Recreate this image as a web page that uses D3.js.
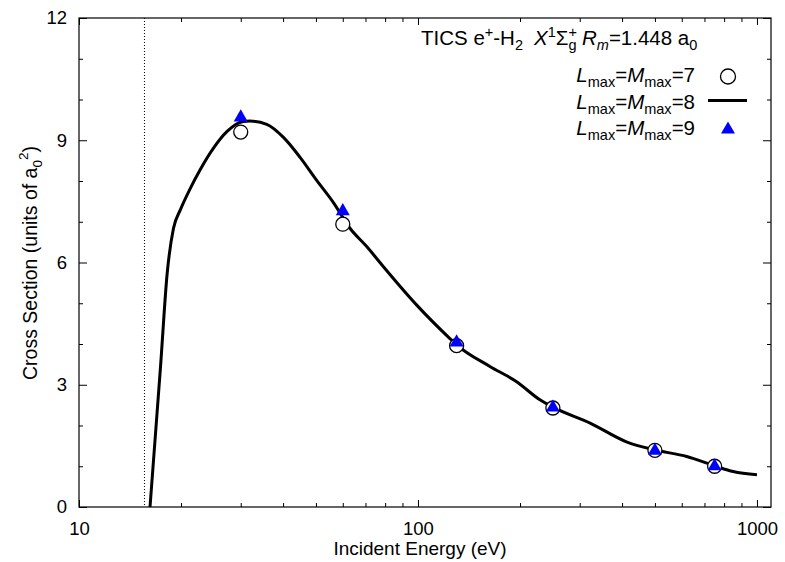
<!DOCTYPE html>
<html>
<head>
<meta charset="utf-8">
<script src="https://cdn.jsdelivr.net/npm/d3@7"></script>
<style>
  body { margin: 0; background: #fff; }
  svg { font-family: "Liberation Sans", Arial, sans-serif; }
</style>
</head>
<body>
<svg id="chart" width="785" height="562"></svg>
<script>
// energies (eV) where the two sparse calculations were made
const pointEnergy = [30, 60, 130, 250, 500, 750];
const lmax7 = [9.20, 6.94, 3.96, 2.43, 1.39, 1.00];
const lmax9 = [9.56, 7.26, 4.04, 2.44, 1.38, 1.00];

// Lmax = Mmax = 8 curve
const curveEnergy = [16.2, 17.4, 18.2, 19.0, 19.9, 21.3, 22.75, 24.9, 27.3, 30.5, 31.9, 35.8, 40.1, 44.9, 50.2, 56.3, 63.0, 70.6, 79, 99, 124, 130, 163, 195, 229, 250, 322, 412, 500, 621, 750, 851, 1000];
const lmax8 = [0, 3.45, 5.73, 6.84, 7.29, 7.82, 8.27, 8.80, 9.21, 9.46, 9.47, 9.39, 9.07, 8.58, 8.02, 7.47, 6.84, 6.39, 5.90, 4.96, 4.14, 3.98, 3.45, 3.08, 2.63, 2.45, 2.06, 1.60, 1.40, 1.24, 1.01, 0.87, 0.79];

const threshold = 15.6;

const xMajor = [10, 100, 1000];
const xMinor = [20, 30, 40, 50, 60, 70, 80, 90, 200, 300, 400, 500, 600, 700, 800, 900];
const yMajor = [0, 3, 6, 9, 12];
const yMinor = [1, 2, 4, 5, 7, 8, 10, 11];

const plot = { left: 79, right: 771, top: 18, bottom: 507 };

const svg = d3.select('#chart');

const x = d3.scaleLog().domain([10, 1100]).range([plot.left, plot.right]);
const y = d3.scaleLinear().domain([0, 12]).range([plot.bottom, plot.top]);

function styleAxis(g) {
    g.select('.domain').remove();
    g.selectAll('line').attr('stroke', '#000').attr('stroke-width', 1);
    g.selectAll('text').attr('font-size', 18.5).attr('fill', '#000');
    g.attr('font-family', null);
}

// bottom axis
svg.append('g')
    .attr('transform', `translate(0,${plot.bottom})`)
    .call(d3.axisBottom(x).tickValues(xMajor).tickFormat(d3.format('d')).tickSize(-7).tickPadding(15))
    .call(styleAxis);
svg.append('g')
    .attr('transform', `translate(0,${plot.bottom})`)
    .call(d3.axisBottom(x).tickValues(xMinor).tickFormat('').tickSize(-4))
    .call(styleAxis);
// top mirror
svg.append('g')
    .attr('transform', `translate(0,${plot.top})`)
    .call(d3.axisTop(x).tickValues(xMajor).tickFormat('').tickSize(-7))
    .call(styleAxis);
svg.append('g')
    .attr('transform', `translate(0,${plot.top})`)
    .call(d3.axisTop(x).tickValues(xMinor).tickFormat('').tickSize(-4))
    .call(styleAxis);

// left axis
svg.append('g')
    .attr('transform', `translate(${plot.left},0)`)
    .call(d3.axisLeft(y).tickValues(yMajor).tickSize(-8).tickPadding(12))
    .call(styleAxis);
svg.append('g')
    .attr('transform', `translate(${plot.left},0)`)
    .call(d3.axisLeft(y).tickValues(yMinor).tickFormat('').tickSize(-4))
    .call(styleAxis);
// right mirror
svg.append('g')
    .attr('transform', `translate(${plot.right},0)`)
    .call(d3.axisRight(y).tickValues(yMajor).tickFormat('').tickSize(-8))
    .call(styleAxis);
svg.append('g')
    .attr('transform', `translate(${plot.right},0)`)
    .call(d3.axisRight(y).tickValues(yMinor).tickFormat('').tickSize(-4))
    .call(styleAxis);

// frame
svg.append('rect')
    .attr('x', plot.left).attr('y', plot.top)
    .attr('width', plot.right - plot.left).attr('height', plot.bottom - plot.top)
    .attr('fill', 'none').attr('stroke', '#000').attr('stroke-width', 1.2);

// threshold line
svg.append('line')
    .attr('x1', x(threshold)).attr('x2', x(threshold))
    .attr('y1', plot.top).attr('y2', plot.bottom)
    .attr('stroke', '#000').attr('stroke-width', 1)
    .attr('stroke-dasharray', '1,2');

// curve
const curve = curveEnergy.map((e, i) => [e, lmax8[i]]);
const line = d3.line()
    .x(d => x(d[0]))
    .y(d => y(d[1]))
    .curve(d3.curveMonotoneX);

svg.append('path')
    .datum(curve)
    .attr('d', line)
    .attr('fill', 'none')
    .attr('stroke', '#000')
    .attr('stroke-width', 3)
    .attr('stroke-linejoin', 'round');

// open circles
svg.append('g')
    .selectAll('circle')
    .data(pointEnergy)
    .enter()
    .append('circle')
    .attr('cx', d => x(d))
    .attr('cy', (d, i) => y(lmax7[i]))
    .attr('r', 7)
    .attr('fill', '#fff')
    .attr('stroke', '#000')
    .attr('stroke-width', 1.3);

// blue triangles
const tri = d3.symbol(d3.symbolTriangle, 85);
svg.append('g')
    .selectAll('path')
    .data(pointEnergy)
    .enter()
    .append('path')
    .attr('d', tri)
    .attr('transform', (d, i) => `translate(${x(d)},${y(lmax9[i])})`)
    .attr('fill', '#0000ff');

// axis titles
svg.append('text')
    .attr('x', 420).attr('y', 555)
    .attr('text-anchor', 'middle')
    .attr('font-size', 19)
    .text('Incident Energy (eV)');

const yt = svg.append('text')
    .attr('transform', 'translate(37,263) rotate(-90)')
    .attr('text-anchor', 'middle')
    .attr('font-size', 19.5);
yt.append('tspan').text('Cross Section (units of a');
yt.append('tspan').attr('font-size', 13.5).attr('dy', 5).text('0');
yt.append('tspan').attr('font-size', 13.5).attr('dy', -14).text('2');
yt.append('tspan').attr('dy', 9).text(')');

// title / legend header
const big = 20.5, small = 14.5;
const tt = svg.append('text')
    .attr('x', 421).attr('y', 45)
    .attr('font-size', big);
tt.append('tspan').text('TICS e');
tt.append('tspan').attr('font-size', small).attr('dy', -8).text('+');
tt.append('tspan').attr('dy', 8).text('-H');
tt.append('tspan').attr('font-size', small).attr('dy', 5).text('2');
tt.append('tspan').attr('dy', -5).attr('dx', 11).attr('font-style', 'italic').text('X');
tt.append('tspan').attr('font-size', small).attr('dy', -8).text('1');
tt.append('tspan').attr('dy', 8).text('Σ');
tt.append('tspan').attr('font-size', small).attr('dy', 5).text('g');
tt.append('tspan').attr('font-size', small).attr('dy', -13).attr('dx', -8).text('+');
tt.append('tspan').attr('dy', 8).attr('dx', 5).attr('font-style', 'italic').text('R');
tt.append('tspan').attr('font-size', small).attr('font-style', 'italic').attr('dy', 5).text('m');
tt.append('tspan').attr('dy', -5).text('=1.448 a');
tt.append('tspan').attr('font-size', small).attr('dy', 5).text('0');

// legend entries
const legend = [
    { n: '7', y: 82, kind: 'circle' },
    { n: '8', y: 108.5, kind: 'line' },
    { n: '9', y: 135, kind: 'triangle' }
];

legend.forEach(l => {
    const t = svg.append('text')
        .attr('x', 695).attr('y', l.y)
        .attr('text-anchor', 'end')
        .attr('font-size', big);
    t.append('tspan').attr('font-style', 'italic').text('L');
    t.append('tspan').attr('font-size', small).attr('dy', 5).text('max');
    t.append('tspan').attr('dy', -5).text('=');
    t.append('tspan').attr('font-style', 'italic').text('M');
    t.append('tspan').attr('font-size', small).attr('dy', 5).text('max');
    t.append('tspan').attr('dy', -5).text('=' + l.n);

    const cy = l.y - 5.5;
    if (l.kind === 'circle') {
        svg.append('circle')
            .attr('cx', 728).attr('cy', cy).attr('r', 7.5)
            .attr('fill', '#fff').attr('stroke', '#000').attr('stroke-width', 1.3);
    } else if (l.kind === 'line') {
        svg.append('line')
            .attr('x1', 708).attr('x2', 747)
            .attr('y1', cy - 2.5).attr('y2', cy - 2.5)
            .attr('stroke', '#000').attr('stroke-width', 3);
    } else {
        svg.append('path')
            .attr('d', tri)
            .attr('transform', `translate(728,${cy})`)
            .attr('fill', '#0000ff');
    }
});
</script>
</body>
</html>
